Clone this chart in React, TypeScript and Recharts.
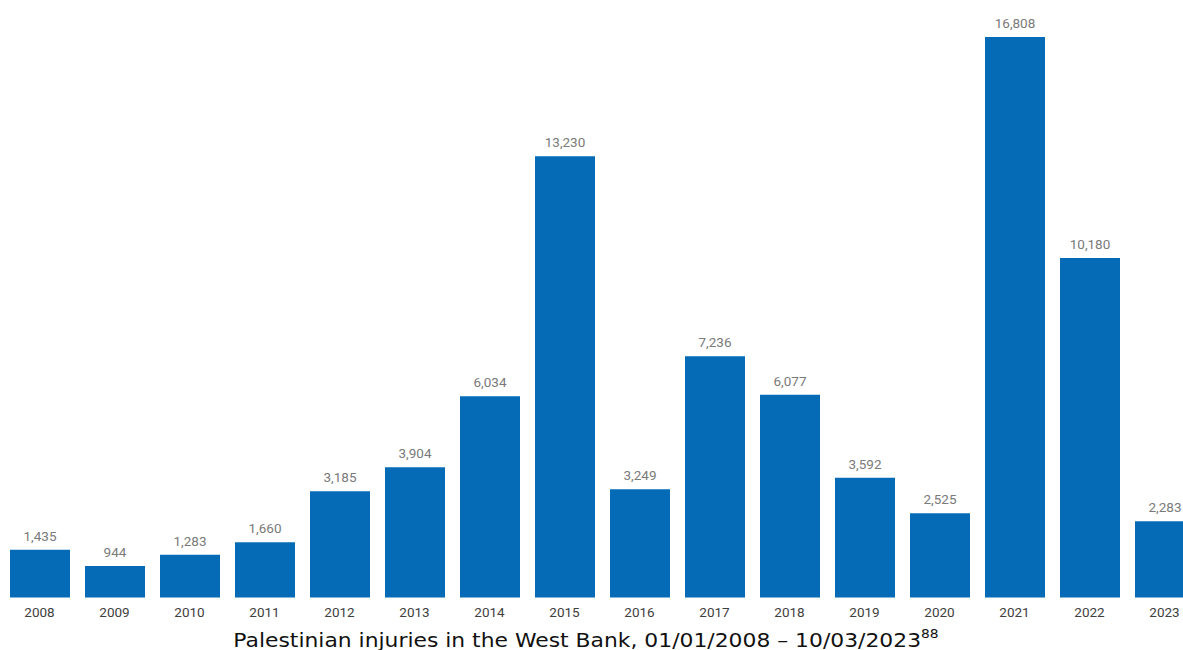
import React from 'react';
import { BarChart, Bar, XAxis, YAxis, LabelList } from 'recharts';

const years = ['2008', '2009', '2010', '2011', '2012', '2013', '2014', '2015', '2016', '2017', '2018', '2019', '2020', '2021', '2022', '2023'];
const injuries = [1435, 944, 1283, 1660, 3185, 3904, 6034, 13230, 3249, 7236, 6077, 3592, 2525, 16808, 10180, 2283];

const data = years.map((year, i) => ({ year, injuries: injuries[i] }));

const fmt = (v: any) => Number(v).toLocaleString('en-US');

export default function App() {
  return (
    <div style={{ position: 'absolute', left: 0, top: 0, width: 1183, height: 650, overflow: 'hidden', background: '#fff' }}>
      <BarChart
        width={1210}
        height={650}
        data={data}
        margin={{ top: 37, right: 8, left: 2, bottom: 22.5 }}
      >
        <XAxis
          dataKey="year"
          axisLine={false}
          tickLine={false}
          tickMargin={4}
          height={30}
          tick={{ fill: '#404040', fontSize: 13.5, fontFamily: 'Roboto' }}
          interval={0}
        />
        <YAxis hide domain={[0, 16808]} />
        <Bar dataKey="injuries" fill="#066bb6" barSize={60} isAnimationActive={false}>
          <LabelList
            dataKey="injuries"
            position="top"
            offset={9}
            formatter={fmt}
            style={{ fill: '#7a7a7a', fontSize: 13.5, fontFamily: 'Roboto' }}
          />
        </Bar>
      </BarChart>
      <div
        style={{
          position: 'absolute',
          top: 629,
          left: 0,
          width: 1172,
          textAlign: 'center',
          fontFamily: '"DejaVu Sans", Verdana, sans-serif',
          fontSize: 19,
          lineHeight: '22px',
          color: '#111',
          whiteSpace: 'nowrap',
          transform: 'scaleX(1.15)',
          transformOrigin: '586px 0',
        }}
      >
        Palestinian injuries in the West Bank, 01/01/2008 – 10/03/2023
        <sup style={{ fontSize: 12, verticalAlign: 'top', lineHeight: '12px', position: 'relative', top: -1 }}>88</sup>
      </div>
    </div>
  );
}
